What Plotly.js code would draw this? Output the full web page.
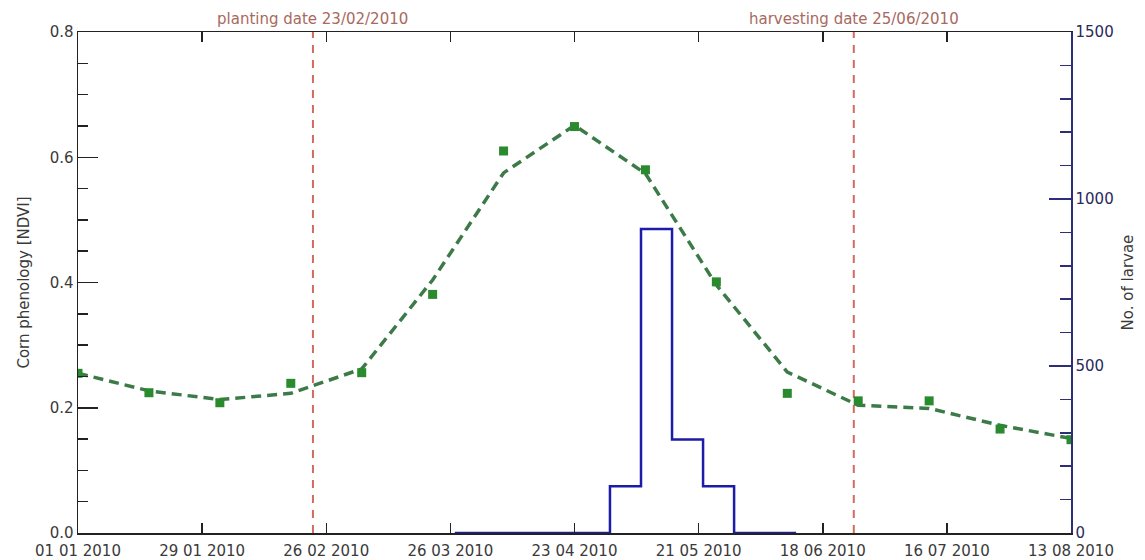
<!DOCTYPE html>
<html>
<head>
<meta charset="utf-8">
<script src="https://cdn.plot.ly/plotly-3.0.1.min.js"></script>
<style>
  html, body { margin: 0; padding: 0; background: #fff; }
  #chart { width: 1145px; height: 560px; }
</style>
</head>
<body>
<div id="chart"></div>
<script>
// 16-day NDVI composites
const ndviDates = ['2010-01-01','2010-01-17','2010-02-02','2010-02-18','2010-03-06','2010-03-22','2010-04-07','2010-04-23','2010-05-09','2010-05-25','2010-06-10','2010-06-26','2010-07-12','2010-07-28','2010-08-13'];
const ndviObserved = [0.255, 0.224, 0.208, 0.239, 0.256, 0.381, 0.610, 0.649, 0.580, 0.401, 0.223, 0.211, 0.211, 0.166, 0.149];
const ndviSmoothed = [0.255, 0.227, 0.213, 0.223, 0.262, 0.404, 0.575, 0.651, 0.574, 0.396, 0.257, 0.204, 0.199, 0.172, 0.151];

// weekly larvae counts (step edges)
const larvaeWeeks = ['2010-03-27','2010-04-03','2010-04-10','2010-04-17','2010-04-24','2010-05-01','2010-05-08','2010-05-15','2010-05-22','2010-05-29','2010-06-05','2010-06-12'];
const larvaeCounts = [0, 0, 0, 0, 0, 140, 910, 280, 140, 0, 0, 0];

// crop events
const eventDates = ['2010-02-23', '2010-06-25'];
const eventLabels = ['planting date 23/02/2010', 'harvesting date 25/06/2010'];

const xRange = ['2010-01-01', '2010-08-13'];
const DAY = 86400000;

const font = { family: 'DejaVu Sans, sans-serif', size: 15, color: '#3a3a3a' };
const navy = '#2e2e78';
const eventColor = '#d46a5e';

const traces = [
  {
    x: ndviDates, y: ndviSmoothed, type: 'scatter', mode: 'lines',
    line: { color: '#3c7a48', width: 3.5, dash: '10px,6px' },
    yaxis: 'y', showlegend: false
  },
  {
    x: ndviDates, y: ndviObserved, type: 'scatter', mode: 'markers',
    marker: { symbol: 'square', size: 9, color: '#2a8a2e' },
    yaxis: 'y', showlegend: false
  },
  {
    x: larvaeWeeks, y: larvaeCounts, type: 'scatter', mode: 'lines',
    line: { color: '#1c1ca8', width: 2.5, shape: 'hv' },
    yaxis: 'y2', showlegend: false
  }
];

const shapes = eventDates.map(d => ({
  type: 'line', xref: 'x', yref: 'paper', x0: d, x1: d, y0: 0, y1: 1,
  line: { color: eventColor, width: 2, dash: '8px,7px' }, layer: 'below'
}));

const annotations = eventDates.map((d, i) => ({
  x: d, xref: 'x', y: 1, yref: 'paper', yanchor: 'bottom', yshift: 2,
  text: eventLabels[i], showarrow: false,
  font: { family: font.family, size: 15, color: '#a8695e' }
}));

const layout = {
  width: 1145, height: 560,
  margin: { l: 78, r: 74, t: 32, b: 27 },
  paper_bgcolor: '#ffffff', plot_bgcolor: '#ffffff',
  font: font,
  showlegend: false,
  xaxis: {
    type: 'date', range: xRange,
    tick0: xRange[0], dtick: 28 * DAY, tickformat: '%d %m %Y',
    ticks: 'inside', ticklen: 10, tickwidth: 1.5, tickcolor: '#222',
    showline: true, linecolor: '#222', linewidth: 1.5, mirror: 'ticks',
    showgrid: false, zeroline: false, automargin: false,
    ticklabelstandoff: 3,
    tickfont: font
  },
  yaxis: {
    range: [0, 0.8], dtick: 0.2, tick0: 0, tickformat: '.1f',
    ticks: 'inside', ticklen: 20, tickwidth: 1.5, tickcolor: '#222',
    minor: { dtick: 0.05, ticks: 'inside', ticklen: 10, tickwidth: 1.5, tickcolor: '#222', showgrid: false },
    showline: true, linecolor: '#222', linewidth: 1.5,
    showgrid: false, zeroline: false, automargin: false,
    title: { text: 'Corn phenology [NDVI]', font: font, standoff: 16 },
    tickfont: font
  },
  yaxis2: {
    overlaying: 'y', side: 'right', anchor: 'x',
    range: [0, 1500], dtick: 500, tick0: 0,
    ticks: 'inside', ticklen: 22, tickwidth: 1.5, tickcolor: navy,
    minor: { dtick: 100, ticks: 'inside', ticklen: 11, tickwidth: 1.5, tickcolor: navy, showgrid: false },
    showline: true, linecolor: navy, linewidth: 1.5,
    showgrid: false, zeroline: false, automargin: false,
    title: { text: 'No. of larvae', font: font, standoff: 10 },
    tickfont: { family: font.family, size: 15, color: '#2a2a5a' }
  },
  shapes: shapes,
  annotations: annotations
};

Plotly.newPlot('chart', traces, layout, { displayModeBar: false, staticPlot: true });
</script>
</body>
</html>
